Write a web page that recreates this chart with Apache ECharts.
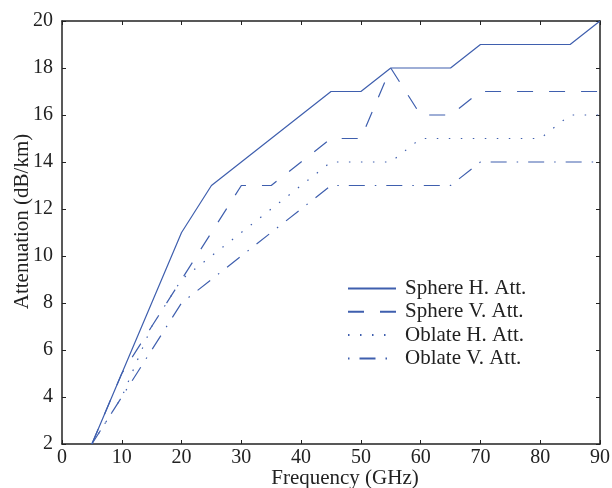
<!DOCTYPE html>
<html>
<head>
<meta charset="utf-8">
<script src="https://cdn.jsdelivr.net/npm/echarts@6/dist/echarts.min.js"></script>
<style>html,body{margin:0;padding:0;background:#fff}#c{width:612px;height:488px}</style>
</head>
<body>
<div id="c"></div>
<script>
const freq = [5,10,15,20,25,30,35,40,45,50,55,60,65,70,75,80,85,90];
const sphereH = [2,5,8,11,13,14,15,16,17,17,18,18,18,19,19,19,19,20];
const sphereV = [2,5,7,9,11,13,13,14,15,15,18,16,16,17,17,17,17,17];
const oblateH = [2,4,7,9,10,11,12,13,14,14,14,15,15,15,15,15,16,16];
const oblateV = [2,4,6,8,9,10,11,12,13,13,13,13,13,14,14,14,14,14];
const names = ['Sphere H. Att.','Sphere V. Att.','Oblate H. Att.','Oblate V. Att.'];
const seriesData = [sphereH, sphereV, oblateH, oblateV];
const dashes = ['solid', [16,16], [1.5,10.5], [16,10,1.5,10]];
const legendOffsets = [0, 0, 0, 26];

const color = '#3f5fae';
const font = 'Liberation Serif';
const axisCol = '#222';
const chart = echarts.init(document.getElementById('c'), null, {renderer:'canvas'});

function xAx(pos, show) {
  return {
    type:'value', position:pos, min:0, max:90, interval:10,
    name: show ? 'Frequency (GHz)' : '', nameLocation:'middle', nameGap:24,
    nameMoveOverlap:false,
    nameTextStyle:{fontFamily:font, fontSize:21, color:axisCol, padding:[0,0,0,28]},
    axisLine:{show:true, onZero:false, lineStyle:{color:axisCol, width:1.5}},
    axisTick:{show:true, inside:true, length:4, lineStyle:{color:axisCol, width:1}},
    axisLabel:{show:show, fontFamily:font, fontSize:20, color:axisCol, margin:4},
    splitLine:{show:false}
  };
}
function yAx(pos, show) {
  return {
    type:'value', position:pos, min:2, max:20, interval:2,
    name: show ? 'Attenuation (dB/km)' : '', nameLocation:'middle', nameGap:29,
    nameMoveOverlap:false,
    nameTextStyle:{fontFamily:font, fontSize:21, color:axisCol, padding:[0,0,0,22]},
    axisLine:{show:true, onZero:false, lineStyle:{color:axisCol, width:1.5}},
    axisTick:{show:true, inside:true, length:4, lineStyle:{color:axisCol, width:1}},
    axisLabel:{show:show, fontFamily:font, fontSize:20, color:axisCol, margin:9},
    splitLine:{show:false}
  };
}

chart.setOption({
  animation:false,
  backgroundColor:'#fff',
  grid:{left:62, right:12, top:21, bottom:44, containLabel:false, outerBoundsMode:'none'},
  xAxis:[xAx('bottom', true), xAx('top', false)],
  yAxis:[yAx('left', true), yAx('right', false)],
  legend:{
    left:342, top:273, orient:'vertical',
    itemWidth:48, itemHeight:14, itemGap:2.3,
    itemStyle:{opacity:0},
    textStyle:{fontFamily:font, fontSize:21, lineHeight:21, color:axisCol, padding:[0,0,0,4]},
    data:names.map((n,i)=>({name:n, lineStyle:{dashOffset:legendOffsets[i]}}))
  },
  series: names.map((n,i)=>({
    name:n, type:'line', symbol:'none', showSymbol:false,
    data: freq.map((f,j)=>[f, seriesData[i][j]]),
    lineStyle:{color:color, width:1.2, type:dashes[i]},
    itemStyle:{color:color}
  }))
});
</script>
</body>
</html>
